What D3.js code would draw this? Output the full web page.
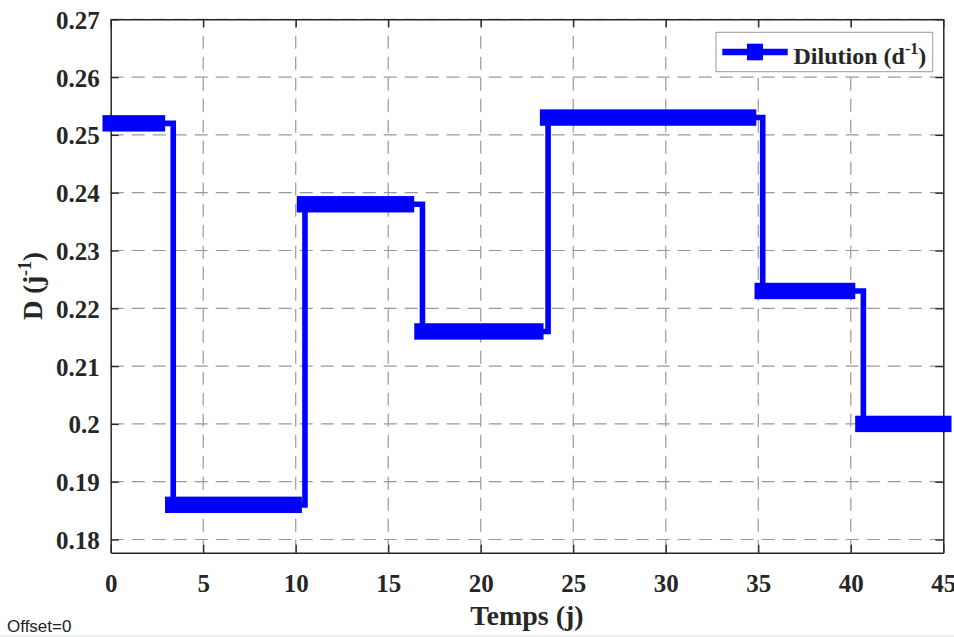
<!DOCTYPE html>
<html>
<head>
<meta charset="utf-8">
<script src="https://cdn.jsdelivr.net/npm/d3@7"></script>
<style>
  html, body { margin: 0; padding: 0; background: #fff; }
  svg { display: block; }
</style>
</head>
<body>
<svg id="chart" width="954" height="637"></svg>
<script>
// ---- data ----
const segStart = [0, 3.38, 10.5, 16.85, 23.64, 35.24, 40.68];   // step times (j)
const segLast  = [2.5, 9.89, 15.96, 22.95, 34.45, 39.8, 45];     // last sample of each level (j)
const levels   = [0.252, 0.186, 0.238, 0.216, 0.253, 0.223, 0.200]; // D (j^-1)
const tEnd = 45;
const xTicks = [0, 5, 10, 15, 20, 25, 30, 35, 40, 45];
const yTicks = [0.18, 0.19, 0.20, 0.21, 0.22, 0.23, 0.24, 0.25, 0.26, 0.27];
const yTickLabels = ["0.18", "0.19", "0.2", "0.21", "0.22", "0.23", "0.24", "0.25", "0.26", "0.27"];
const xDomain = [0, 45];
const yDomain = [0.17772, 0.27];

// ---- layout ----
const L = 110.7, R = 943.3, T = 19.3, B = 552.7;
const blue = "#0000ff";
const ink = "#262626";
const serif = "'Liberation Serif', 'Times New Roman', serif";
const svg = d3.select("#chart");

const x = d3.scaleLinear().domain(xDomain).range([L, R]);
const y = d3.scaleLinear().domain(yDomain).range([B, T]);

// background strip at bottom
svg.append("rect").attr("x", 0).attr("y", 635).attr("width", 954).attr("height", 2).attr("fill", "#eeeeee");

// grid
const grid = svg.append("g").attr("stroke", "#999999").attr("stroke-width", 1.2).attr("stroke-dasharray", "13,8");
grid.selectAll("line.v").data(xTicks.slice(1, -1)).join("line")
  .attr("x1", d => x(d)).attr("x2", d => x(d)).attr("y1", B).attr("y2", T);
grid.selectAll("line.h").data(yTicks).join("line")
  .attr("y1", d => y(d)).attr("y2", d => y(d)).attr("x1", L).attr("x2", R);

// axes (ticks inward, MATLAB box style)
const tk = 8;
const fmtY = d => yTickLabels[yTicks.indexOf(d)];
const axB = svg.append("g").attr("transform", `translate(0,${B})`)
  .call(d3.axisBottom(x).tickValues(xTicks).tickSizeInner(-tk).tickSizeOuter(0).tickPadding(22));
const axT = svg.append("g").attr("transform", `translate(0,${T})`)
  .call(d3.axisTop(x).tickValues(xTicks).tickSizeInner(-tk).tickSizeOuter(0).tickFormat(""));
const axL = svg.append("g").attr("transform", `translate(${L},0)`)
  .call(d3.axisLeft(y).tickValues(yTicks).tickSizeInner(-tk).tickSizeOuter(0).tickPadding(11).tickFormat(fmtY));
const axR = svg.append("g").attr("transform", `translate(${R},0)`)
  .call(d3.axisRight(y).tickValues(yTicks).tickSizeInner(-tk).tickSizeOuter(0).tickFormat(""));
[axB, axT, axL, axR].forEach(a => {
  a.select(".domain").attr("stroke", ink).attr("stroke-width", 1.5);
  a.selectAll(".tick line").attr("stroke", ink).attr("stroke-width", 1.3);
  a.selectAll(".tick text").attr("fill", ink).attr("font-size", 25).attr("font-weight", "bold")
    .attr("font-family", serif);
});
axL.selectAll(".tick text").attr("dy", "0.36em");

// data: markers band (dense square markers) per level
const markerHalf = 8.2;
const segs = levels.map((v, i) => ({ t0: segStart[i], t1: segLast[i], v }));
svg.append("g").selectAll("rect").data(segs).join("rect")
  .attr("x", d => x(d.t0) - markerHalf)
  .attr("width", d => x(d.t1) - x(d.t0) + 2 * markerHalf)
  .attr("y", d => y(d.v) - markerHalf)
  .attr("height", 2 * markerHalf)
  .attr("fill", blue);

// stairs line
const pts = segStart.map((t, i) => [t, levels[i]]).concat([[tEnd, levels[levels.length - 1]]]);
svg.append("path")
  .attr("d", d3.line().x(d => x(d[0])).y(d => y(d[1])).curve(d3.curveStepAfter)(pts))
  .attr("fill", "none").attr("stroke", blue).attr("stroke-width", 5.6)
  .attr("stroke-linejoin", "miter").attr("stroke-linecap", "square");

// legend
const lg = svg.append("g");
lg.append("rect").attr("x", 716).attr("y", 32.3).attr("width", 216.7).attr("height", 39.4)
  .attr("fill", "#fff").attr("stroke", "#9a9a9a").attr("stroke-width", 1);
lg.append("line").attr("x1", 722.3).attr("x2", 787.7).attr("y1", 52).attr("y2", 52)
  .attr("stroke", blue).attr("stroke-width", 6.6);
lg.append("rect").attr("x", 755 - 8).attr("y", 52 - 8.3).attr("width", 16).attr("height", 16.6).attr("fill", blue);
const lt = lg.append("text").attr("x", 793.5).attr("y", 64).attr("font-family", serif)
  .attr("font-size", 24).attr("font-weight", "bold").attr("fill", ink);
lt.append("tspan").text("Dilution (d");
lt.append("tspan").attr("font-size", 16).attr("dy", -10).text("-1");
lt.append("tspan").attr("dy", 10).text(")");

// axis labels
svg.append("text").attr("x", (L + R) / 2).attr("y", 625).attr("text-anchor", "middle").attr("font-family", serif)
  .attr("font-size", 28).attr("font-weight", "bold").attr("fill", ink).text("Temps (j)");
const yl = svg.append("text").attr("transform", `translate(41.5,${(T + B) / 2}) rotate(-90)`).attr("font-family", serif)
  .attr("text-anchor", "middle").attr("font-size", 27).attr("font-weight", "bold").attr("fill", ink);
yl.append("tspan").text("D (j");
yl.append("tspan").attr("font-size", 18).attr("dy", -11).text("-1");
yl.append("tspan").attr("dy", 11).text(")");

// offset note
svg.append("text").attr("x", 7).attr("y", 632).attr("font-size", 17)
  .attr("font-family", "'Liberation Sans', Arial, sans-serif").attr("fill", "#222").text("Offset=0");
</script>
</body>
</html>
